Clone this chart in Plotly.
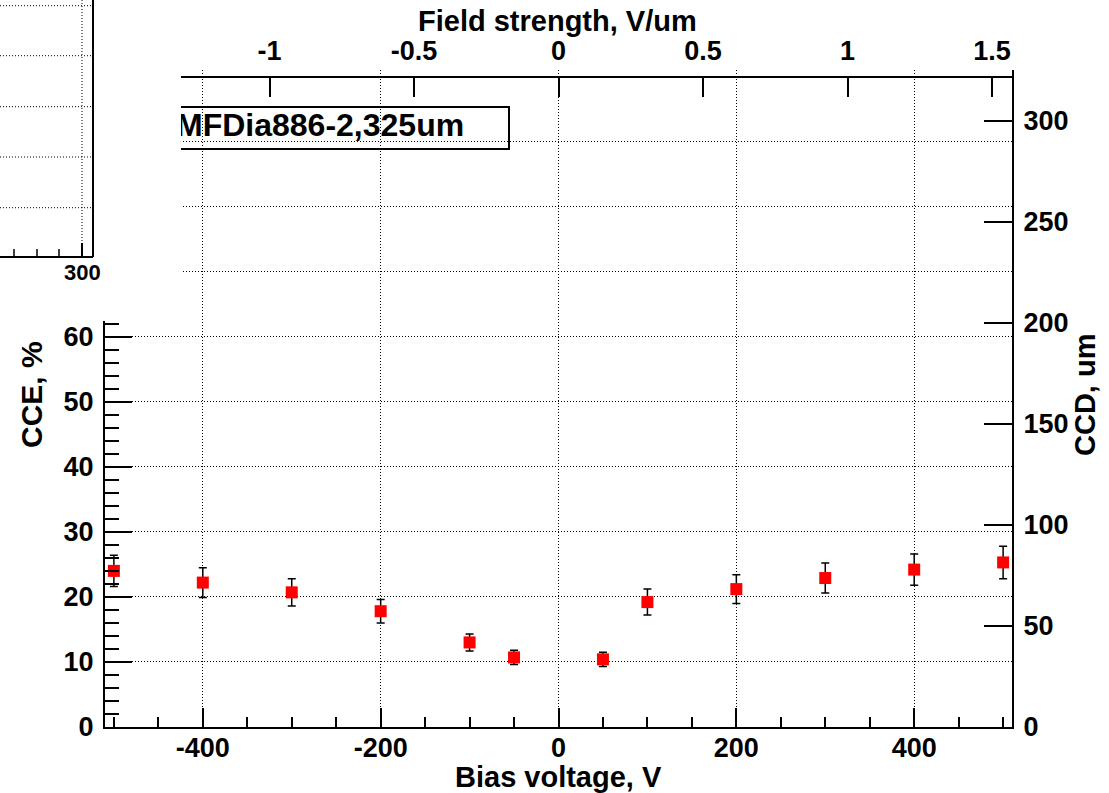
import plotly.graph_objects as go

# Charge collection efficiency vs. bias voltage, 325 um diamond sample
bias_v = [-500, -400, -300, -200, -100, -50, 50, 100, 200, 300, 400, 500]
cce_pct = [24.0, 22.2, 20.7, 17.8, 13.0, 10.7, 10.4, 19.2, 21.2, 22.9, 24.2, 25.3]
cce_err = [2.4, 2.3, 2.1, 1.8, 1.3, 1.1, 1.1, 2.0, 2.2, 2.3, 2.4, 2.5]

thickness_um = 325
sample_label = "MFDia886-2,325um"

bias_ticks = [-400, -200, 0, 200, 400]
field_ticks = [-1.5, -1, -0.5, 0, 0.5, 1, 1.5]
cce_ticks = [0, 10, 20, 30, 40, 50, 60, 70, 80, 90, 100]
cce_labelled_max = 60
ccd_ticks = [0, 50, 100, 150, 200, 250, 300]

W, H = 1109, 793
L, R, T, B = 105, 1012, 70, 727          # frame edges in pixels
X_RANGE = [-510, 510]
CCE_RANGE = [0, 101]
CCD_RANGE = [0, thickness_um]

FONT = "Liberation Sans, Arial, sans-serif"


def px(x):
    return (x - L) / (R - L)


def py(y):
    return (B - y) / (B - T)


def fmt(v):
    return f"{v:g}"


fig = go.Figure()

fig.add_trace(go.Scatter(
    x=bias_v, y=cce_pct, mode="markers",
    marker=dict(symbol="square", size=12, color="#ff0000", line=dict(width=0)),
    error_y=dict(type="data", array=cce_err, color="black", thickness=1.5, width=4),
    xaxis="x", yaxis="y", showlegend=False, hoverinfo="skip",
))

# label inside the boxed legend
fig.add_trace(go.Scatter(
    x=[(176 - 558.5) * (X_RANGE[1] - X_RANGE[0]) / (R - L)],
    y=[(B - 128) * (CCE_RANGE[1] - CCE_RANGE[0]) / (B - T)],
    mode="text", text=[sample_label], textposition="middle right",
    textfont=dict(family=FONT, size=32, color="black", weight="bold"),
    showlegend=False, hoverinfo="skip", cliponaxis=False,
))

# secondary axes: field strength (top) and collection distance (right)
fig.add_trace(go.Scatter(
    x=[X_RANGE[0] / thickness_um], y=[0], mode="markers",
    marker=dict(opacity=0), xaxis="x2", yaxis="y2",
    showlegend=False, hoverinfo="skip",
))

tickfont = dict(family=FONT, size=27, color="black", weight="bold")
dotted = "1px,2px"

fig.update_layout(
    width=W, height=H,
    margin=dict(l=L, r=W - R, t=T, b=H - B, autoexpand=False),
    paper_bgcolor="white", plot_bgcolor="white",
    xaxis=dict(
        range=X_RANGE, tickmode="array", tickvals=bias_ticks,
        ticktext=[fmt(v) for v in bias_ticks],
        ticks="inside", ticklen=19, tickwidth=2, tickcolor="black",
        minor=dict(tickmode="linear", tick0=0, dtick=50, ticks="inside",
                   ticklen=10, tickwidth=1.5, tickcolor="black", showgrid=False),
        showline=True, linewidth=2, linecolor="black",
        showgrid=True, gridcolor="black", gridwidth=1, griddash=dotted,
        zeroline=False, tickfont=tickfont, ticklabelstandoff=-4,
    ),
    yaxis=dict(
        range=CCE_RANGE, tickmode="array", tickvals=cce_ticks,
        ticktext=[fmt(v) if v <= cce_labelled_max else "" for v in cce_ticks],
        ticks="inside", ticklen=27, tickwidth=2, tickcolor="black",
        minor=dict(tickmode="linear", tick0=0, dtick=2, ticks="inside",
                   ticklen=14, tickwidth=1.5, tickcolor="black", showgrid=False),
        showline=True, linewidth=2, linecolor="black",
        showgrid=True, gridcolor="black", gridwidth=1, griddash=dotted,
        zeroline=False, tickfont=tickfont, ticklabelstandoff=4,
    ),
    xaxis2=dict(
        range=[X_RANGE[0] / thickness_um, X_RANGE[1] / thickness_um],
        overlaying="x", side="top", anchor="free", position=py(77),
        tickmode="array", tickvals=field_ticks,
        ticktext=[fmt(v) for v in field_ticks],
        ticks="inside", ticklen=19, tickwidth=2, tickcolor="black",
        showline=True, linewidth=2, linecolor="black",
        showgrid=False, zeroline=False, tickfont=tickfont, ticklabelstandoff=5,
    ),
    yaxis2=dict(
        range=CCD_RANGE, overlaying="y", side="right", anchor="x",
        tickmode="array", tickvals=ccd_ticks,
        ticktext=[fmt(v) for v in ccd_ticks],
        ticks="inside", ticklen=28, tickwidth=2, tickcolor="black",
        showline=True, linewidth=2, linecolor="black",
        showgrid=False, zeroline=False, tickfont=tickfont, ticklabelstandoff=4,
    ),
)

shapes = []
# boxed sample label
shapes.append(dict(type="rect", xref="paper", yref="paper", layer="between",
                   x0=px(140), x1=px(509), y0=py(149), y1=py(107),
                   fillcolor="white", line=dict(color="black", width=2)))

# overlapping pad in the upper-left corner
shapes.append(dict(type="rect", xref="paper", yref="paper", layer="above",
                   x0=px(-5), x1=px(181), y0=py(321), y1=py(-5),
                   fillcolor="white", line=dict(width=0)))
for gy in [5.7, 55.7, 106.7, 157, 207.7]:
    shapes.append(dict(type="line", xref="paper", yref="paper", layer="above",
                       x0=px(0), x1=px(93), y0=py(gy), y1=py(gy),
                       line=dict(color="black", width=1, dash=dotted)))
shapes.append(dict(type="line", xref="paper", yref="paper", layer="above",
                   x0=px(82), x1=px(82), y0=py(0), y1=py(243),
                   line=dict(color="black", width=1, dash=dotted)))
shapes.append(dict(type="line", xref="paper", yref="paper", layer="above",
                   x0=px(93), x1=px(93), y0=py(0), y1=py(257),
                   line=dict(color="black", width=2)))
shapes.append(dict(type="line", xref="paper", yref="paper", layer="above",
                   x0=px(0), x1=px(93), y0=py(257), y1=py(257),
                   line=dict(color="black", width=2)))
for tx in [14, 37, 59]:
    shapes.append(dict(type="line", xref="paper", yref="paper", layer="above",
                       x0=px(tx), x1=px(tx), y0=py(249), y1=py(257),
                       line=dict(color="black", width=1.5)))
shapes.append(dict(type="line", xref="paper", yref="paper", layer="above",
                   x0=px(82), x1=px(82), y0=py(243), y1=py(257),
                   line=dict(color="black", width=2)))
fig.update_layout(shapes=shapes)

titlefont = dict(family=FONT, size=29, color="black", weight="bold")
annotations = [
    dict(text="Bias voltage, V", x=px(558), y=py(777), xref="paper", yref="paper",
         xanchor="center", yanchor="middle", showarrow=False, font=titlefont),
    dict(text="Field strength, V/um", x=px(557), y=py(21), xref="paper", yref="paper",
         xanchor="center", yanchor="middle", showarrow=False, font=titlefont),
    dict(text="CCE, %", x=px(31), y=py(395), xref="paper", yref="paper",
         xanchor="center", yanchor="middle", showarrow=False, textangle=-90,
         font=dict(family=FONT, size=30, color="black", weight="bold")),
    dict(text="CCD, um", x=px(1085), y=py(395), xref="paper", yref="paper",
         xanchor="center", yanchor="middle", showarrow=False, textangle=-90,
         font=titlefont),
    dict(text="300", x=px(82), y=py(272), xref="paper", yref="paper",
         xanchor="center", yanchor="middle", showarrow=False,
         font=dict(family=FONT, size=22, color="black", weight="bold")),
]
fig.update_layout(annotations=annotations)

fig.write_html("out.html")
